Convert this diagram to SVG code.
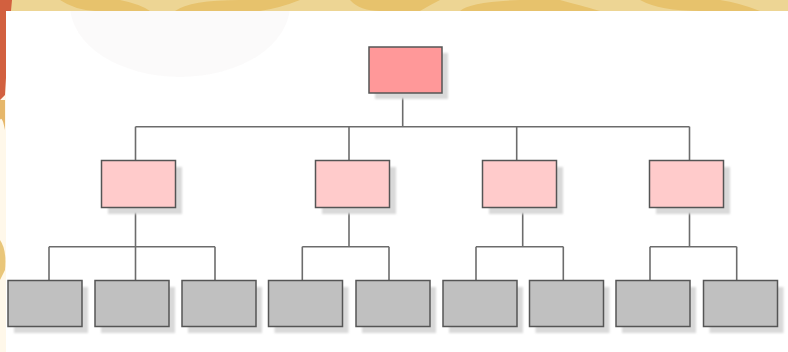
<svg xmlns="http://www.w3.org/2000/svg" width="788" height="352" viewBox="0 0 788 352">
<style>
.box{stroke:#555555;stroke-width:1.5}
.top{fill:#FF9899}
.mid{fill:#FFCBCB}
.leaf{fill:#C0C0C0}
.sh{fill:#D9D9D9}
.conn{fill:none;stroke:#6C6C6C;stroke-width:1.6}
</style>
<defs>
<filter id="blur" x="-20%" y="-20%" width="140%" height="140%"><feGaussianBlur stdDeviation="1.2"/></filter>
<clipPath id="panel"><rect x="6" y="11" width="782" height="341"/></clipPath>
</defs>
<g id="background">
<rect x="0" y="0" width="788" height="352" fill="#FFF8EA"/>
<rect x="0" y="0" width="788" height="11" fill="#EDD594"/>
<path d="M60 0 Q75 10 95 11 L150 11 Q140 4 120 0 Z M175 11 Q190 0 240 0 L300 0 Q280 8 260 11 Z M350 0 Q360 11 380 11 L420 11 Q430 5 440 0 Z M460 11 Q470 2 520 0 L560 0 Q590 8 600 11 Z M640 0 Q660 11 700 11 L760 11 Q740 3 720 0 Z" fill="#E7C26C"/>
<path d="M0 0 L12 0 Q8 40 5 95 L0 100 Z" fill="#D2603F"/>
<path d="M0 100 L5 100 L5 130 Q2 115 0 120 Z" fill="#E6B76A"/>
<path d="M0 240 Q7 250 5 270 L0 280 Z" fill="#E9C67A"/>
<rect x="6" y="11" width="782" height="341" fill="#FFFFFF"/>
<ellipse cx="180" cy="5" rx="110" ry="72" fill="#F8F6F6" opacity="0.6" clip-path="url(#panel)"/>
</g>
<g id="connectors">
<line class="conn" x1="402.7" y1="93" x2="402.7" y2="126.7"/>
<line class="conn" x1="135.5" y1="126.7" x2="689.5" y2="126.7"/>
<line class="conn" x1="135.5" y1="126.7" x2="135.5" y2="160.5"/>
<line class="conn" x1="349" y1="126.7" x2="349" y2="160.5"/>
<line class="conn" x1="516.7" y1="126.7" x2="516.7" y2="160.5"/>
<line class="conn" x1="689.5" y1="126.7" x2="689.5" y2="160.5"/>
<line class="conn" x1="135.5" y1="207.5" x2="135.5" y2="280.5"/>
<line class="conn" x1="49" y1="246.7" x2="215" y2="246.7"/>
<line class="conn" x1="49" y1="246.7" x2="49" y2="280.5"/>
<line class="conn" x1="215" y1="246.7" x2="215" y2="280.5"/>
<line class="conn" x1="349" y1="207.5" x2="349" y2="246.7"/>
<line class="conn" x1="302.3" y1="246.7" x2="389" y2="246.7"/>
<line class="conn" x1="302.3" y1="246.7" x2="302.3" y2="280.5"/>
<line class="conn" x1="389" y1="246.7" x2="389" y2="280.5"/>
<line class="conn" x1="522.7" y1="207.5" x2="522.7" y2="246.7"/>
<line class="conn" x1="476" y1="246.7" x2="563.3" y2="246.7"/>
<line class="conn" x1="476" y1="246.7" x2="476" y2="280.5"/>
<line class="conn" x1="563.3" y1="246.7" x2="563.3" y2="280.5"/>
<line class="conn" x1="689.5" y1="207.5" x2="689.5" y2="246.7"/>
<line class="conn" x1="650" y1="246.7" x2="736.7" y2="246.7"/>
<line class="conn" x1="650" y1="246.7" x2="650" y2="280.5"/>
<line class="conn" x1="736.7" y1="246.7" x2="736.7" y2="280.5"/>
</g>
<g id="n0"><rect class="sh" x="375" y="53" width="73" height="46" filter="url(#blur)"/><rect class="box top" x="369" y="47" width="73" height="46"/></g>
<g id="n1"><rect class="sh" x="108" y="167" width="74" height="47" filter="url(#blur)"/><rect class="box mid" x="101.5" y="160.5" width="74" height="47"/></g>
<g id="n2"><rect class="sh" x="322" y="167" width="74" height="47" filter="url(#blur)"/><rect class="box mid" x="315.5" y="160.5" width="74" height="47"/></g>
<g id="n3"><rect class="sh" x="489" y="167" width="74" height="47" filter="url(#blur)"/><rect class="box mid" x="482.5" y="160.5" width="74" height="47"/></g>
<g id="n4"><rect class="sh" x="656" y="167" width="74" height="47" filter="url(#blur)"/><rect class="box mid" x="649.5" y="160.5" width="74" height="47"/></g>
<g id="n5"><rect class="sh" x="14" y="287" width="74" height="46" filter="url(#blur)"/><rect class="box leaf" x="8" y="280.5" width="74" height="46"/></g>
<g id="n6"><rect class="sh" x="101" y="287" width="74" height="46" filter="url(#blur)"/><rect class="box leaf" x="95" y="280.5" width="74" height="46"/></g>
<g id="n7"><rect class="sh" x="188" y="287" width="74" height="46" filter="url(#blur)"/><rect class="box leaf" x="182" y="280.5" width="74" height="46"/></g>
<g id="n8"><rect class="sh" x="274.5" y="287" width="74" height="46" filter="url(#blur)"/><rect class="box leaf" x="268.5" y="280.5" width="74" height="46"/></g>
<g id="n9"><rect class="sh" x="362" y="287" width="74" height="46" filter="url(#blur)"/><rect class="box leaf" x="356" y="280.5" width="74" height="46"/></g>
<g id="n10"><rect class="sh" x="449" y="287" width="74" height="46" filter="url(#blur)"/><rect class="box leaf" x="443" y="280.5" width="74" height="46"/></g>
<g id="n11"><rect class="sh" x="535.5" y="287" width="74" height="46" filter="url(#blur)"/><rect class="box leaf" x="529.5" y="280.5" width="74" height="46"/></g>
<g id="n12"><rect class="sh" x="622" y="287" width="74" height="46" filter="url(#blur)"/><rect class="box leaf" x="616" y="280.5" width="74" height="46"/></g>
<g id="n13"><rect class="sh" x="709.5" y="287" width="74" height="46" filter="url(#blur)"/><rect class="box leaf" x="703.5" y="280.5" width="74" height="46"/></g>
</svg>
